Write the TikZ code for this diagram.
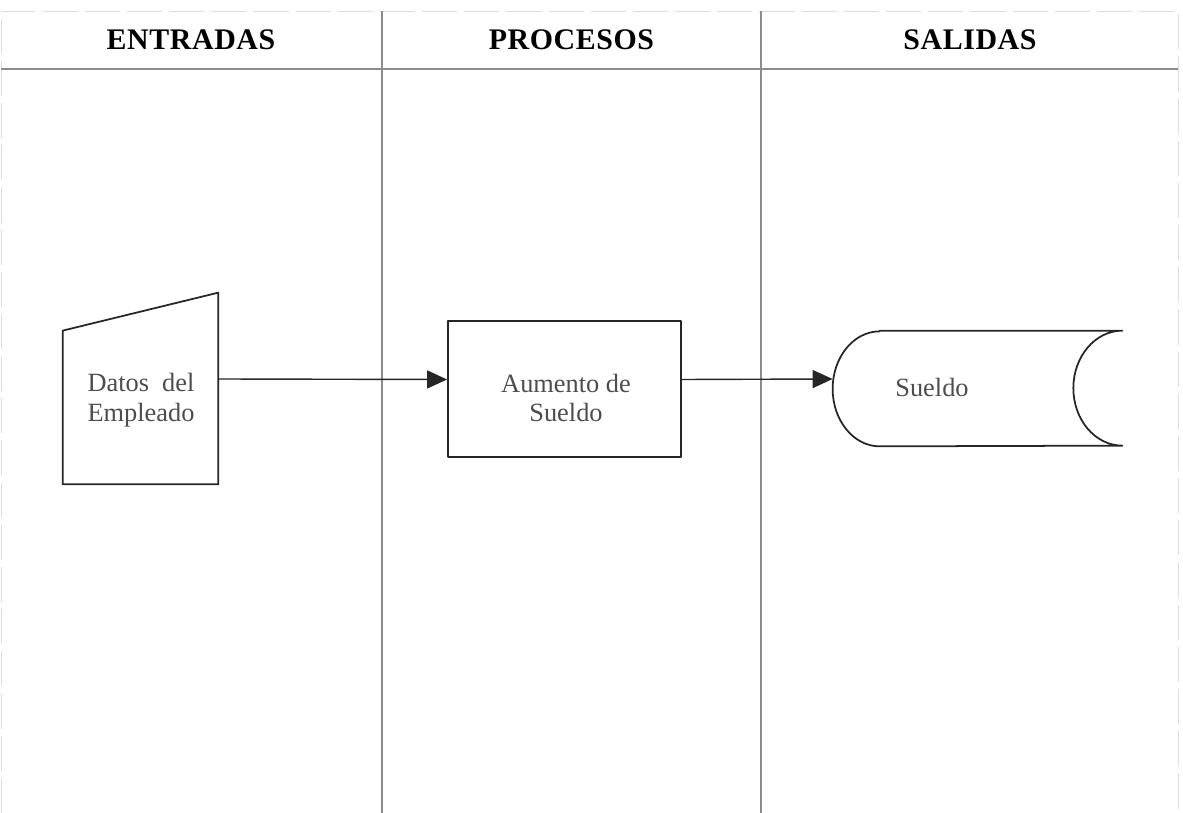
\documentclass[tikz,border=0pt]{standalone}
\usepackage{fontspec}
\setmainfont{Liberation Serif}
\usepackage{xcolor}
\usetikzlibrary{arrows.meta,positioning,calc}
\definecolor{laneGray}{HTML}{8C8C8C}
\definecolor{rimGray}{HTML}{DDDDDD}
\definecolor{txtGray}{HTML}{4D4D4D}

\begin{document}
\begin{tikzpicture}[font=\fontsize{15}{17}\selectfont,
  lane/.style={draw=laneGray, line width=0.6pt},
  rim/.style={draw=rimGray, line width=0.5pt, dash pattern=on 20pt off 4pt},
  head/.style={font=\fontsize{17}{20}\selectfont\bfseries\addfontfeatures{LetterSpace=2}},
  shp/.style={draw=black!85, line width=1pt, line join=round},
  txt/.style={text=txtGray, align=center},
  flow/.style={draw=black!85, line width=0.8pt, -{Triangle[length=0.4cm,width=0.36cm]}}]
\useasboundingbox (0,0) rectangle (23.66,-16.26);
% --- lanes ---
\draw[rim] (0.02,-16.26) -- (0.02,-0.22) -- (23.56,-0.22) -- (23.56,-16.26);
\draw[lane] (0.02,-1.38) -- (23.56,-1.38);
\draw[lane] (7.64,-0.22) -- (7.64,-16.26);
\draw[lane] (15.22,-0.22) -- (15.22,-16.26);
\node[head] (inHead) at (3.82,-0.80) {ENTRADAS};
\node[head] (procHead) at (11.43,-0.80) {PROCESOS};
\node[head] (outHead) at (19.40,-0.80) {SALIDAS};
% --- input: manual entry ---
\node[minimum width=3.10cm, minimum height=3.82cm, inner sep=0pt] (datos) at (2.81,-7.77) {};
\draw[shp] (datos.south west) -- (datos.south east) -- (datos.north east)
  -- ([yshift=-0.76cm]datos.north west) -- cycle;
\node[txt] (datosTxt) at (2.82,-8.00) {Datos\hspace{0.5em}del\\Empleado};
% --- process ---
\node[shp, minimum width=4.66cm, minimum height=2.72cm, inner sep=0pt] (aumento) at (11.29,-7.78) {};
\node[txt] (aumentoTxt) at (11.32,-7.96) {Aumento de\\Sueldo};
% --- output: stored data ---
\node[minimum width=5.78cm, minimum height=2.30cm, inner sep=0pt] (sueldo) at (19.55,-7.77) {};
\draw[shp] ([xshift=0.94cm]sueldo.north west) -- (sueldo.north east)
  arc[start angle=90, end angle=270, x radius=0.98cm, y radius=1.15cm]
  -- ([xshift=0.94cm]sueldo.south west)
  arc[start angle=270, end angle=90, x radius=0.94cm, y radius=1.15cm] -- cycle;
\node[txt] (sueldoTxt) at (18.64,-7.74) {Sueldo};
% --- flows ---
\draw[flow] ([yshift=0.19cm]datos.east) -- ([yshift=0.19cm]aumento.west);
\draw[flow] ([yshift=0.19cm]aumento.east) -- ([yshift=0.19cm]sueldo.west);
\end{tikzpicture}
\end{document}
